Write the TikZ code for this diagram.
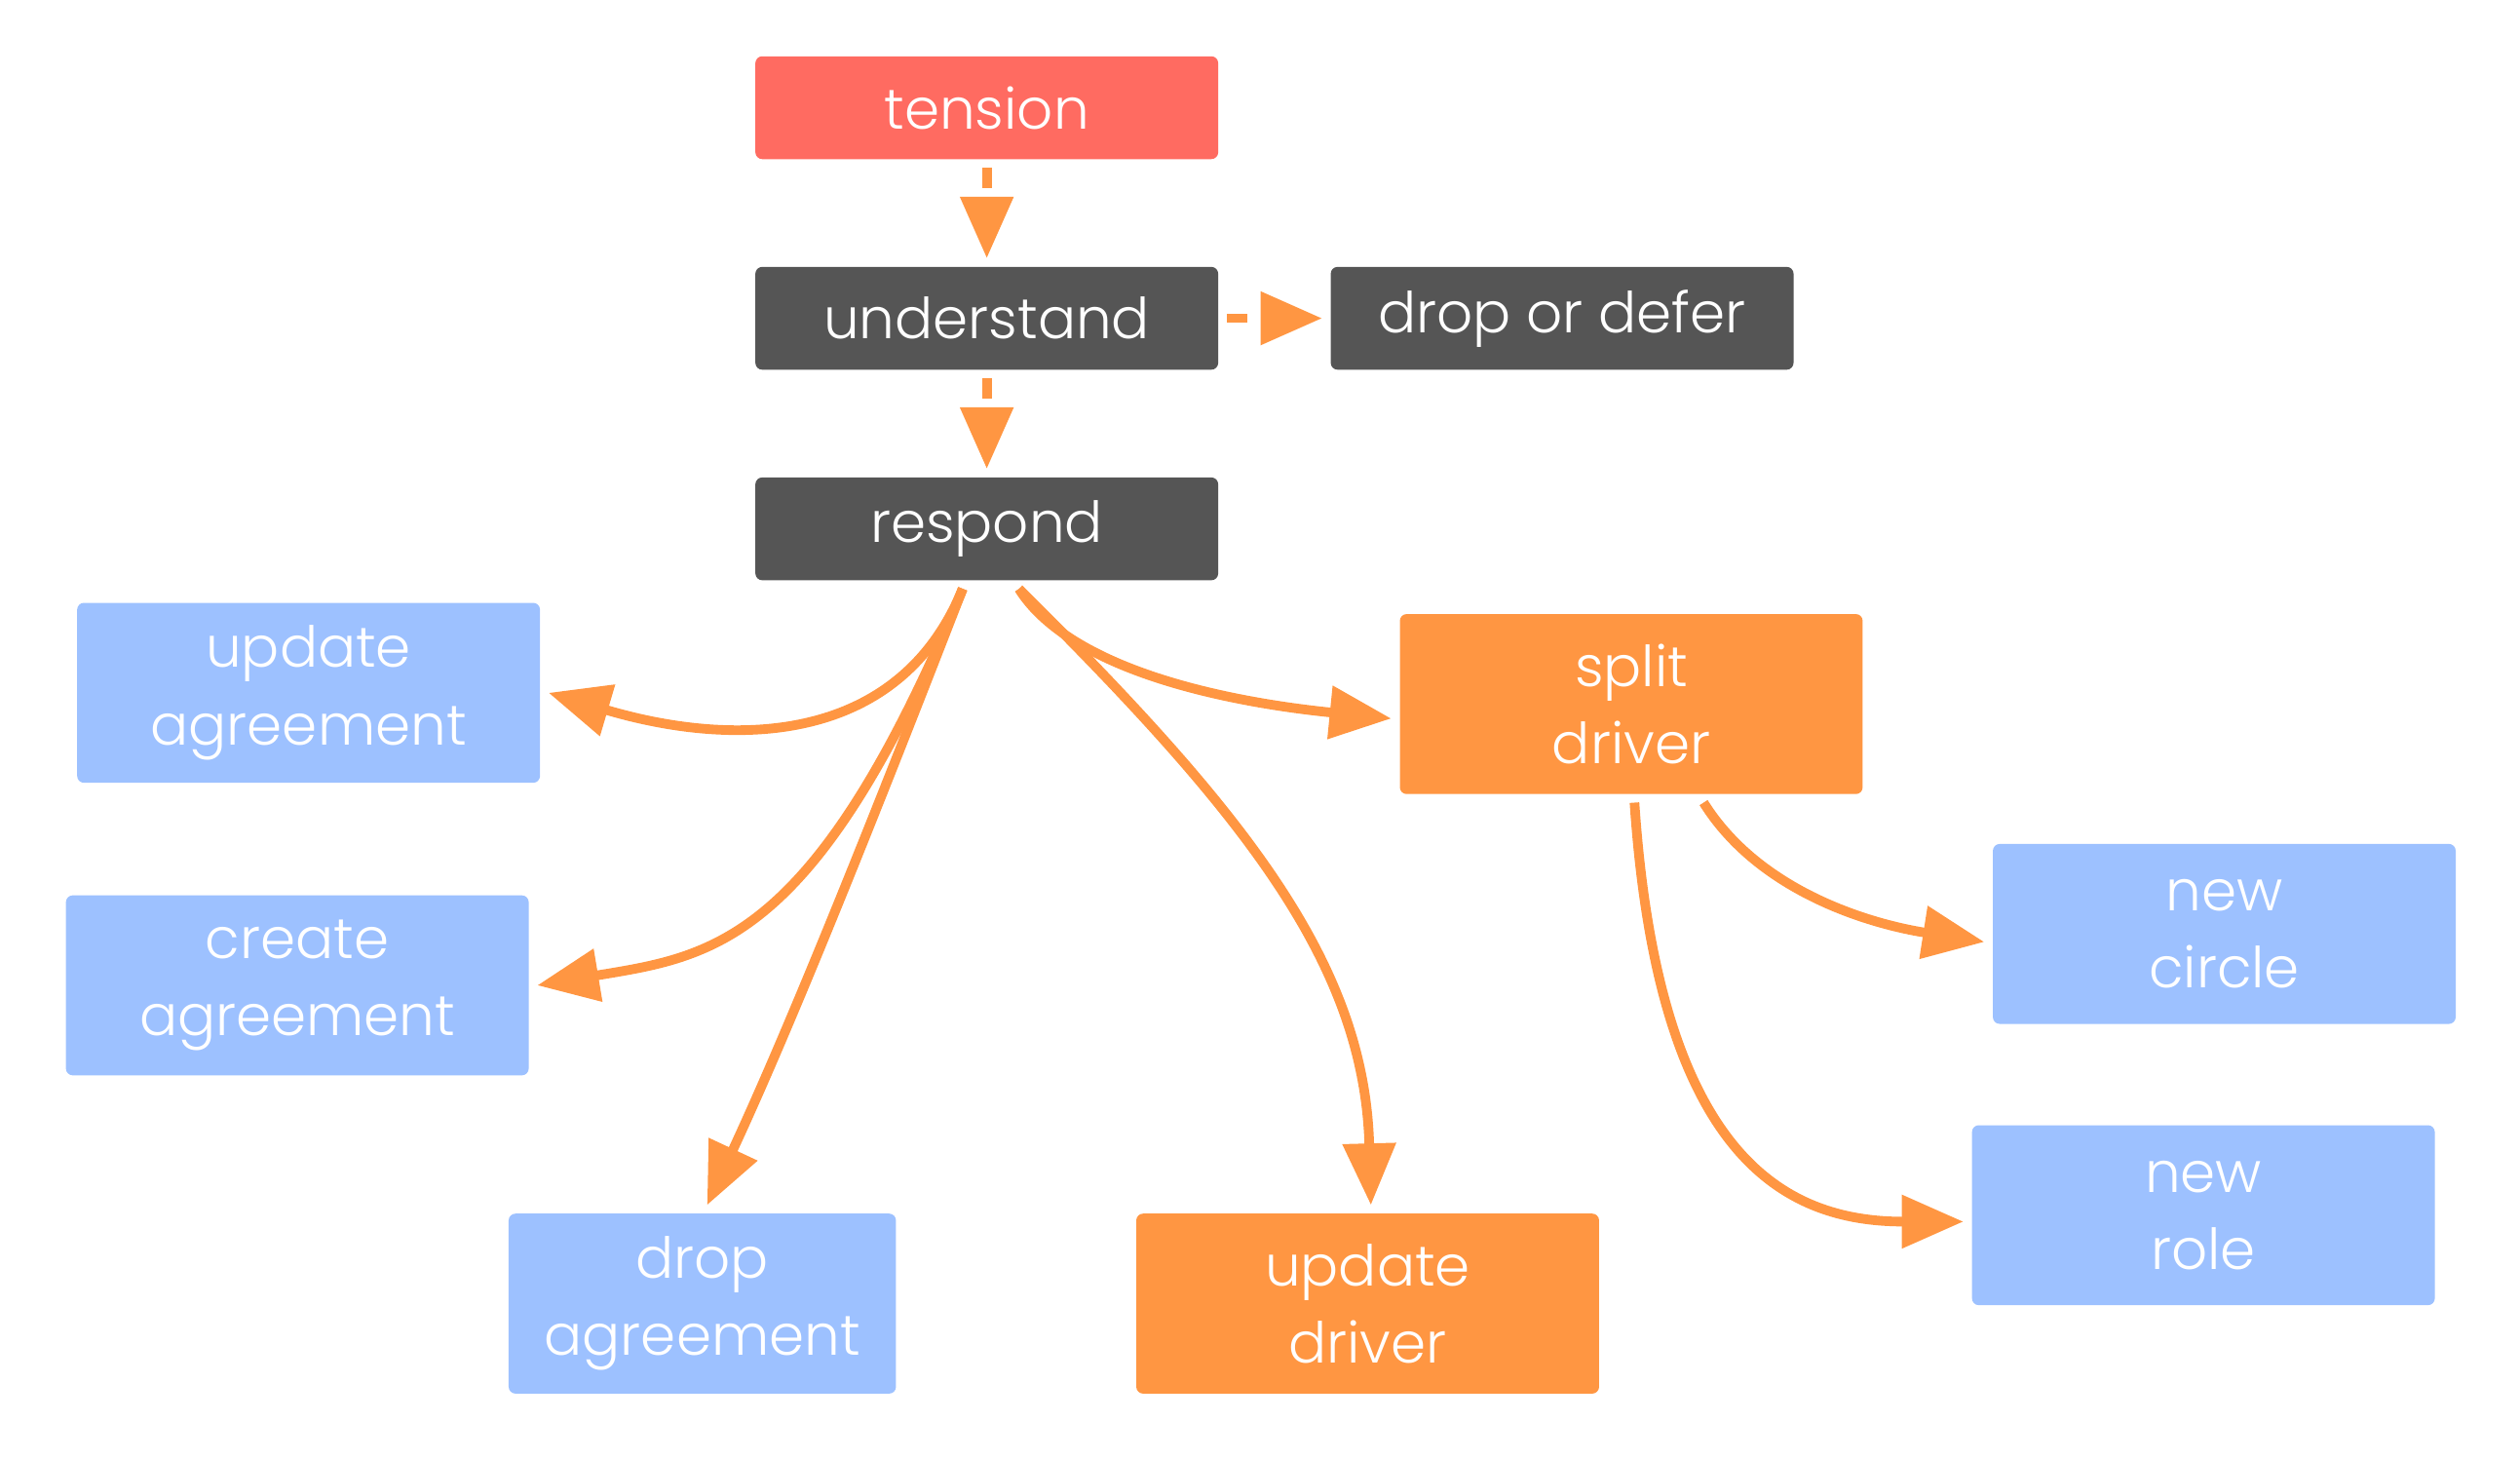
\documentclass[tikz,border=0pt]{standalone}
\usepackage{fontspec}
\setmainfont{Poppins}[UprightFont={* Light}]
\usetikzlibrary{arrows.meta}
\definecolor{tensionred}{HTML}{FF6B61}
\definecolor{darkbox}{HTML}{555555}
\definecolor{lightblue}{HTML}{9DC1FF}
\definecolor{flowor}{HTML}{FF9642}

\begin{document}
\begin{tikzpicture}[
  x=0.016492cm, y=-0.016492cm,
  every node/.style={rectangle, rounded corners=2pt, text=white, align=center,
    minimum width=4.75cm, outer sep=2.5pt, font=\fontsize{16.5}{22.5}\selectfont},
  short/.style={minimum height=1.055cm},
  tall/.style={minimum height=1.847cm},
  flow/.style={draw=flowor, line width=2.8pt, -{Triangle[length=18pt, width=15pt]}},
  dflow/.style={flow, dash pattern=on 6pt off 6pt}
]
\useasboundingbox (0,0) rectangle (1568,908);
\node[fill=tensionred, short] (tension) at (614,67) {tension};
\node[fill=darkbox, short] (understand) at (614,198) {understand};
\node[fill=darkbox, short] (defer) at (972,198) {drop or defer};
\node[fill=darkbox, short] (respond) at (614,329) {respond};
\node[fill=lightblue, tall] (uagree) at (192,431) {update\\agreement};
\node[fill=lightblue, tall] (cagree) at (185,613) {create\\agreement};
\node[fill=lightblue, tall, minimum width=3.975cm] (dagree) at (437,811) {drop\\agreement};
\node[fill=flowor, tall] (udriver) at (851,811) {update\\driver};
\node[fill=flowor, tall] (sdriver) at (1015,438) {split\\driver};
\node[fill=lightblue, tall] (ncircle) at (1384,581) {new\\circle};
\node[fill=lightblue, tall] (nrole) at (1371,756) {new\\role};

\draw[dflow] (tension) -- (understand);
\draw[dflow] (understand) -- (defer);
\draw[dflow] (understand) -- (respond);
\draw[flow] ([shift={(-15,0)}]respond.south) .. controls +(-39,96) and +(118,35) .. (uagree.east);
\draw[flow] ([shift={(-15,0)}]respond.south) .. controls +(-92,222) and +(108,-18) .. (cagree.east);
\draw[flow] ([shift={(-15,0)}]respond.south) .. controls +(-47,121) and +(55,-118) .. ([shift={(3,0)}]dagree.north);
\draw[flow] ([shift={(20,0)}]respond.south) .. controls +(34,54) and +(-90,-9) .. ([shift={(0,9)}]sdriver.west);
\draw[flow] ([shift={(20,0)}]respond.south) .. controls +(141,140) and +(-4,-150) .. ([shift={(2,0)}]udriver.north);
\draw[flow] ([shift={(45,0)}]sdriver.south) .. controls +(35,56) and +(-70,-11) .. ([shift={(0,5)}]ncircle.west);
\draw[flow] ([shift={(2,0)}]sdriver.south) .. controls +(15,221) and +(-111,0) .. ([shift={(0,4)}]nrole.west);
\end{tikzpicture}
\end{document}
